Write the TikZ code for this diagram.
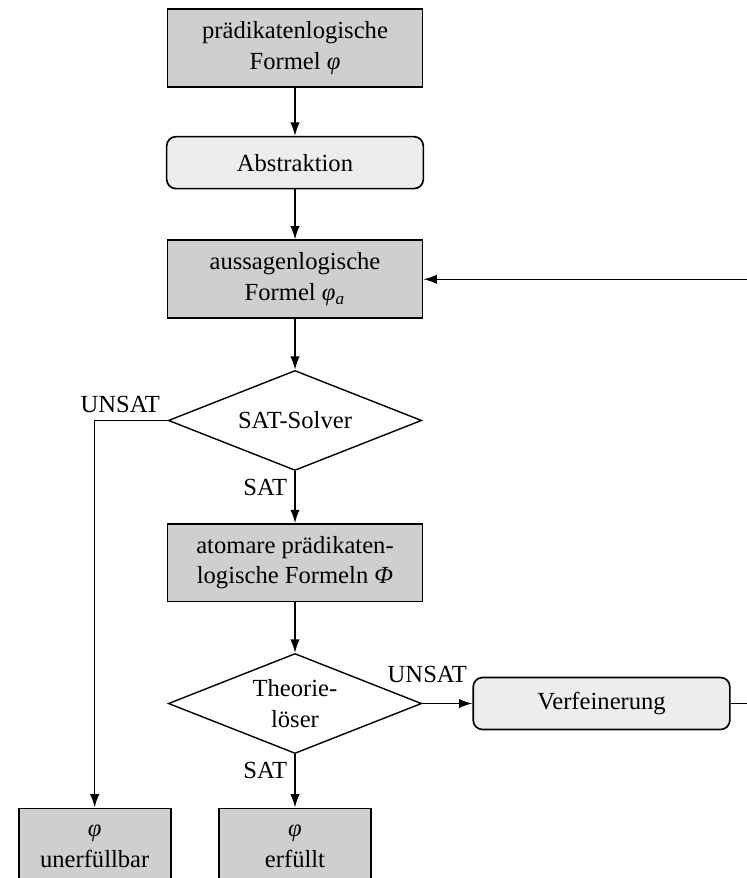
\documentclass[tikz,border=0pt]{standalone}
\usepackage{fontspec}
\setmainfont{Liberation Serif}
\usetikzlibrary{shapes.geometric, arrows.meta, positioning}

\begin{document}
\begin{tikzpicture}[
  node distance=0.76cm and 0.75cm,
  every node/.style={font=\fontsize{10.5}{13}\selectfont},
  formel/.style={rectangle, draw, fill=gray!38, line width=0.7pt,
                 minimum width=3.83cm, minimum height=1.17cm,
                 align=center, inner sep=2pt},
  proc/.style={rectangle, draw, fill=gray!14, rounded corners=4pt,
               line width=0.7pt, minimum width=3.85cm,
               minimum height=0.78cm, align=center},
  decision/.style={diamond, draw, fill=white, line width=0.6pt,
                   aspect=2.53, minimum width=3.8cm, minimum height=1.5cm,
                   inner sep=0pt, align=center},
  result/.style={formel, minimum width=2.28cm, minimum height=1.14cm},
  arr/.style={-{Latex[length=2mm, width=1.4mm]}, line width=0.65pt},
  clab/.style={inner sep=3pt}
]

\useasboundingbox (-4.425,0.72) rectangle (6.765,-12.45);

% ----- main column -----
\node[formel] (pl) {prädikatenlogische\\Formel \textit{φ}};
\node[proc, below=0.72cm of pl] (abs) {Abstraktion};
\node[formel, below=0.75cm of abs] (al) {aussagenlogische\\Formel \textit{φ\textsubscript{a}}};
\node[decision, below=of al] (sat) {SAT-Solver};
\node[formel, below=0.78cm of sat, minimum height=1.16cm] (atom)
  {atomare prädikaten-\\logische Formeln \textit{Φ}};
\node[decision, below=of atom] (th) {Theorie-\\löser};

% ----- results -----
\node[result, below=0.8cm of th] (erf) {\textit{φ}\\erfüllt};
\node[result, left=0.7cm of erf] (unerf) {\textit{φ}\\unerfüllbar};

% ----- refinement loop -----
\node[proc, right=of th] (verf) {Verfeinerung};
\coordinate (rback) at (7,0);

% ----- arrows -----
\draw[arr] (pl) -- (abs);
\draw[arr] (abs) -- (al);
\draw[arr] (al) -- (sat);
\draw[arr] (sat.south) node[clab, below left]{SAT} -- (atom);
\draw[arr] (sat.west) node[clab, above left]{UNSAT} -| (unerf);
\draw[arr] (atom) -- (th);
\draw[arr] (th.south) node[clab, below left]{SAT} -- (erf);
\draw[arr] (th.east) -- node[clab, above, pos=0.1, yshift=0.2cm]{UNSAT} (verf);
\draw[arr] (verf.east) -- (verf.east -| rback) |- (al.east);

\end{tikzpicture}
\end{document}
